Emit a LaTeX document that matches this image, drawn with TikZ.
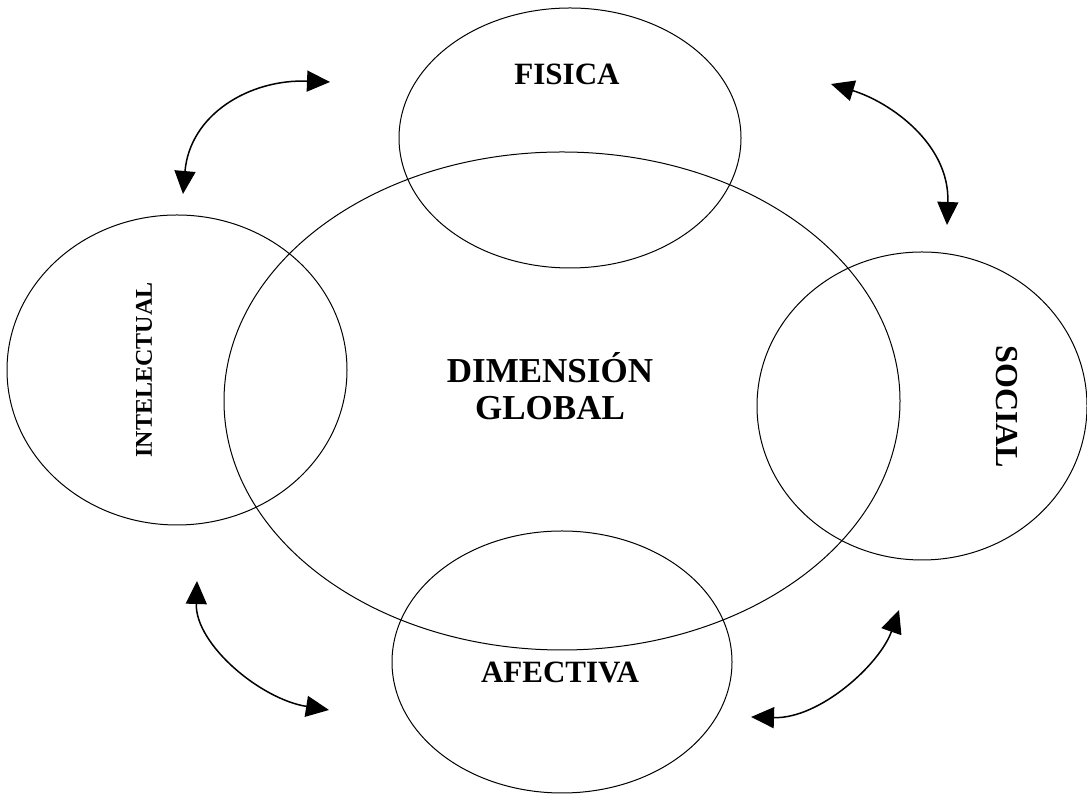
\documentclass[tikz,border=0pt]{standalone}
\usepackage{fontspec}
\setmainfont{Liberation Serif}
\usetikzlibrary{shapes.geometric,arrows.meta}
\begin{document}
\begin{tikzpicture}[x=1pt,y=1pt,
  circ/.style={draw, ellipse, line width=1pt, inner sep=0pt},
  lbl/.style={inner sep=0pt},
  link/.style={line width=1.5pt, {Triangle[length=23pt,width=21pt]}-{Triangle[length=23pt,width=21pt]}}]
\useasboundingbox (0,0) rectangle (1087,794);
% ellipses
\node[circ, minimum width=676pt, minimum height=498pt] (glob) at (562,393) {};
\node[circ, minimum width=342pt, minimum height=260pt] (fis) at (570,656) {};
\node[circ, minimum width=340pt, minimum height=310pt] (int) at (177,424) {};
\node[circ, minimum width=330pt, minimum height=308pt] (soc) at (922,388) {};
\node[circ, minimum width=340pt, minimum height=262pt] (afe) at (562,132) {};
% labels
\node[lbl, align=center, font=\bfseries\fontsize{35}{37}\selectfont] (tglob) at (550,408) {DIMENSIÓN\\GLOBAL};
\node[lbl, font=\bfseries\fontsize{31}{35}\selectfont] (tfis) at (567,720) {FISICA};
\node[lbl, font=\bfseries\fontsize{31}{35}\selectfont] (tafe) at (560,122) {AFECTIVA};
\node[lbl, rotate=90, font=\bfseries\fontsize{24}{28}\selectfont] (tint) at (144,424) {INTELECTUAL};
\node[lbl, rotate=-90, font=\bfseries\fontsize{32}{36}\selectfont] (tsoc) at (1007,387) {SOCIAL};
% arrow ends
\coordinate (tlA) at (330,712);
\coordinate (tlB) at (183,600);
\coordinate (trA) at (831,710);
\coordinate (trB) at (947,569);
\coordinate (blA) at (197,213);
\coordinate (blB) at (329,84);
\coordinate (brA) at (751,77);
\coordinate (brB) at (899,184);
% arrows
\draw[link] (tlA) .. controls (250,715) and (190,680) .. (tlB);
\draw[link] (trA) .. controls (890,692) and (950,650) .. (trB);
\draw[link] (blA) .. controls (195,150) and (260,95) .. (blB);
\draw[link] (brA) .. controls (820,75) and (880,130) .. (brB);
\end{tikzpicture}
\end{document}
